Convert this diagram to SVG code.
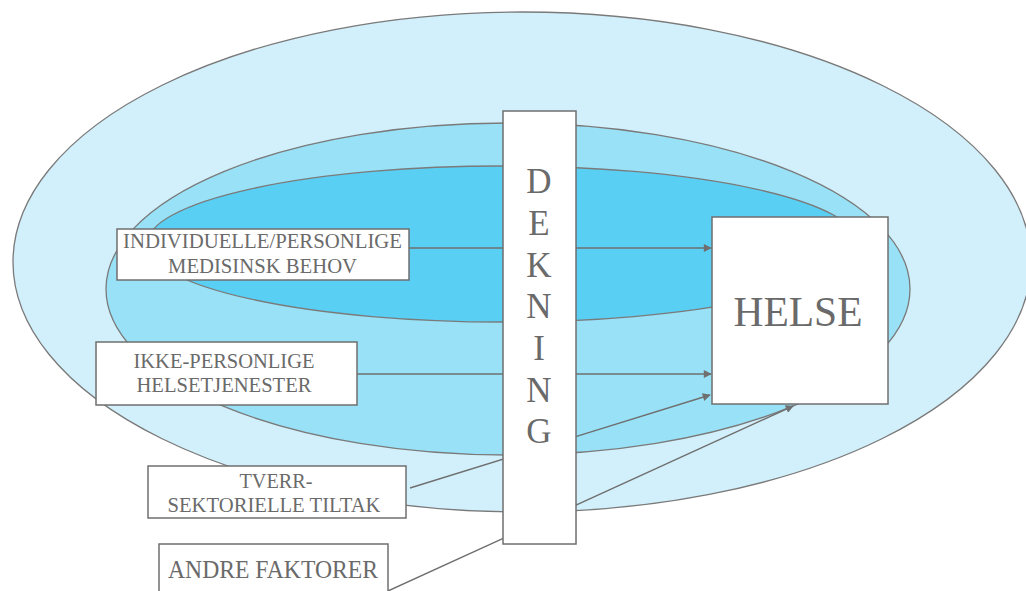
<svg xmlns="http://www.w3.org/2000/svg" width="1026" height="591" viewBox="0 0 1026 591">
  <style>
    .zone { stroke: #7a7a7a; stroke-width: 1.3; }
    .box { fill: #ffffff; stroke: #6f6f6f; stroke-width: 1.5; }
    .lbl { fill: #6a6a6a; text-anchor: middle; }
    .link { stroke: #6f6f6f; stroke-width: 1.4; fill: none; marker-end: url(#arrow); }
  </style>
  <defs>
    <marker id="arrow" viewBox="0 0 10 10" refX="9" refY="5" markerWidth="10" markerHeight="8" markerUnits="userSpaceOnUse" orient="auto">
      <path d="M0,0 L10,5 L0,10 z" fill="#6f6f6f"/>
    </marker>
  </defs>

  <rect width="1026" height="591" fill="#ffffff"/>

  <!-- nested zones -->
  <g id="zones">
    <ellipse class="zone" cx="522" cy="262" rx="509" ry="250" fill="#d2f0fb"/>
    <ellipse class="zone" cx="508" cy="289" rx="402" ry="166" fill="#98e1f7"/>
    <ellipse class="zone" cx="503" cy="244" rx="356" ry="78" fill="#59cff4"/>
  </g>

  <!-- connectors -->
  <g id="connectors">
    <line class="link" x1="409" y1="248" x2="711" y2="248"/>
    <line class="link" x1="357" y1="374" x2="711" y2="374"/>
    <line class="link" x1="410" y1="488" x2="710" y2="395"/>
    <line class="link" x1="388" y1="591" x2="793" y2="406"/>
  </g>

  <g font-family="'Liberation Serif', 'DejaVu Serif', serif">
    <g id="dekning">
      <rect class="box" x="503" y="111" width="73" height="433"/>
      <text class="lbl" x="539" y="193" font-size="35">D</text>
      <text class="lbl" x="539" y="235" font-size="35">E</text>
      <text class="lbl" x="539" y="277" font-size="35">K</text>
      <text class="lbl" x="539" y="318" font-size="35">N</text>
      <text class="lbl" x="539" y="360" font-size="35">I</text>
      <text class="lbl" x="539" y="402" font-size="35">N</text>
      <text class="lbl" x="539" y="443" font-size="35">G</text>
    </g>

    <g id="helse">
      <rect class="box" x="712" y="217" width="176" height="187"/>
      <text class="lbl" x="798" y="326" font-size="41.5" textLength="129" lengthAdjust="spacingAndGlyphs">HELSE</text>
    </g>

    <g id="individuelle">
      <rect class="box" x="117" y="229" width="292" height="51"/>
      <text class="lbl" x="262.5" y="248" font-size="20.5" textLength="279" lengthAdjust="spacingAndGlyphs">INDIVIDUELLE/PERSONLIGE</text>
      <text class="lbl" x="262.5" y="273" font-size="20.5" textLength="189" lengthAdjust="spacingAndGlyphs">MEDISINSK BEHOV</text>
    </g>

    <g id="ikke-personlige">
      <rect class="box" x="96" y="342" width="261" height="63"/>
      <text class="lbl" x="224" y="368" font-size="20.5" textLength="181" lengthAdjust="spacingAndGlyphs">IKKE-PERSONLIGE</text>
      <text class="lbl" x="224" y="392" font-size="20.5" textLength="175" lengthAdjust="spacingAndGlyphs">HELSETJENESTER</text>
    </g>

    <g id="tverrsektorielle">
      <rect class="box" x="148" y="466" width="258" height="52"/>
      <text class="lbl" x="276" y="488" font-size="21" textLength="73" lengthAdjust="spacingAndGlyphs">TVERR-</text>
      <text class="lbl" x="274" y="512" font-size="21" textLength="213" lengthAdjust="spacingAndGlyphs">SEKTORIELLE TILTAK</text>
    </g>

    <g id="andre-faktorer">
      <rect class="box" x="159" y="544" width="229" height="60"/>
      <text class="lbl" x="273" y="578" font-size="25" textLength="210" lengthAdjust="spacingAndGlyphs">ANDRE FAKTORER</text>
    </g>
  </g>
</svg>
